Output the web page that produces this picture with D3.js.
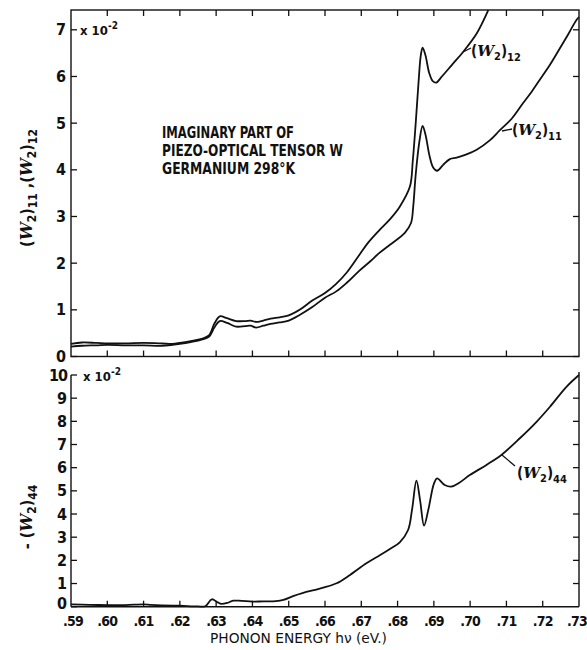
<!DOCTYPE html>
<html><head><meta charset="utf-8">
<script src="https://cdn.jsdelivr.net/npm/d3@7"></script>
<style>
body{margin:0;background:#fff;}
text{font-family:"DejaVu Sans Condensed","Liberation Sans",sans-serif;fill:#111;}
</style></head><body>
<svg id="c" width="587" height="650"></svg>
<script>
// ---- data ----
const xTicks = [0.59,0.60,0.61,0.62,0.63,0.64,0.65,0.66,0.67,0.68,0.69,0.70,0.71,0.72,0.73];
const xTickLabels = [".59",".60",".61",".62",".63",".64",".65",".66",".67",".68",".69",".70",".71",".72",".73"];
const topYTicks = [0,1,2,3,4,5,6,7];
const botYTicks = [0,1,2,3,4,5,6,7,8,9,10];

const w12E = [0.590,0.593,0.597,0.600,0.605,0.610,0.615,0.618,0.620,0.623,0.626,0.628,0.6295,0.631,0.633,0.6355,0.638,0.6395,0.641,0.643,0.645,0.6475,0.650,0.653,0.6565,0.660,0.663,0.666,0.6695,0.672,0.675,0.678,0.6806,0.6834,0.6842,0.6850,0.6858,0.6864,0.6869,0.6877,0.6887,0.6897,0.6907,0.692,0.695,0.698,0.7018,0.705];
const w12V = [0.27,0.30,0.29,0.28,0.28,0.29,0.28,0.27,0.29,0.33,0.38,0.45,0.70,0.86,0.82,0.76,0.76,0.77,0.74,0.77,0.81,0.84,0.88,1.00,1.20,1.36,1.55,1.80,2.18,2.45,2.71,2.95,3.21,3.64,4.2,5.0,5.9,6.45,6.62,6.45,6.08,5.90,5.87,5.98,6.25,6.52,6.92,7.42];

const w11E = [0.590,0.593,0.597,0.600,0.605,0.610,0.615,0.618,0.620,0.623,0.626,0.628,0.6295,0.631,0.633,0.6355,0.638,0.6395,0.641,0.643,0.645,0.6475,0.650,0.653,0.6565,0.660,0.663,0.666,0.6695,0.6725,0.675,0.678,0.682,0.6837,0.6843,0.6850,0.6860,0.6869,0.6877,0.6888,0.6898,0.6909,0.6925,0.6944,0.6963,0.699,0.7018,0.7054,0.7082,0.7115,0.7146,0.7170,0.7192,0.722,0.7247,0.727,0.7293,0.730];
const w11V = [0.21,0.23,0.24,0.25,0.24,0.24,0.23,0.25,0.27,0.31,0.36,0.42,0.62,0.76,0.72,0.64,0.65,0.66,0.62,0.66,0.70,0.73,0.77,0.89,1.06,1.26,1.39,1.58,1.84,2.04,2.22,2.40,2.65,2.86,3.2,3.9,4.6,4.94,4.75,4.30,4.05,3.98,4.10,4.23,4.26,4.33,4.43,4.63,4.85,5.10,5.43,5.68,5.93,6.25,6.60,6.90,7.21,7.27];

const w44E = [0.590,0.595,0.600,0.605,0.610,0.612,0.615,0.620,0.625,0.627,0.6288,0.6303,0.6315,0.633,0.6347,0.637,0.640,0.643,0.6465,0.6485,0.6512,0.654,0.657,0.6595,0.6632,0.6669,0.6714,0.6751,0.678,0.6806,0.6829,0.6840,0.6852,0.6862,0.6873,0.6885,0.6900,0.6909,0.6930,0.6948,0.6970,0.6999,0.7045,0.7086,0.7137,0.7183,0.7220,0.7266,0.7300];
const w44V = [0.10,0.08,0.07,0.07,0.10,0.08,0.06,0.04,0.01,0.02,0.32,0.20,0.12,0.16,0.26,0.25,0.22,0.23,0.24,0.29,0.46,0.60,0.72,0.82,1.01,1.37,1.87,2.22,2.50,2.78,3.31,4.2,5.44,4.6,3.50,4.2,5.3,5.54,5.25,5.18,5.35,5.68,6.12,6.55,7.27,7.98,8.63,9.50,10.0];

// ---- layout ----
const svg = d3.select("#c");
const L = 71, R = 579;
const topT = 10, topB = 356.5, botT = 372, botB = 606.7;
const x = d3.scaleLinear().domain([0.59,0.73]).range([L,R]);
const yT = d3.scaleLinear().domain([0,7]).range([topB,29.8]);
const yB = d3.scaleLinear().domain([0,10]).range([botB,375]);
function line(x1,y1,x2,y2,w){svg.append("line").attr("x1",x1).attr("y1",y1).attr("x2",x2).attr("y2",y2).attr("stroke","#111").attr("stroke-width",w||1.3);}

// top panel frame
svg.append("rect").attr("x",L).attr("y",topT).attr("width",R-L).attr("height",topB-topT).attr("stroke","#111").attr("stroke-width",1.4).attr("fill","none");
xTicks.slice(1,-1).forEach(t=>{ line(x(t),topB,x(t),topB-6); line(x(t),topT,x(t),topT+6); });
topYTicks.forEach(t=>{ line(L,yT(t),L+6,yT(t)); line(R,yT(t),R-6,yT(t));
  svg.append("text").attr("x",L-5).attr("y",yT(t)+5.5).attr("text-anchor","end").attr("font-size",16).attr("font-weight","bold").text(t); });

// bottom panel axes
line(L,375,L,botB,1.4); line(L,botB,R,botB,1.4); line(R,botT,R,botB,1.4);
xTicks.slice(1,-1).forEach(t=>{ line(x(t),botB,x(t),botB-6); });
botYTicks.forEach(t=>{ line(L,yB(t),L+6,yB(t)); if(t>0 && t<10) line(R,yB(t),R-6,yB(t));
  svg.append("text").attr("x",L-4).attr("y",yB(t)+(t===0?2.5:5.5)).attr("text-anchor","end").attr("font-size",16).attr("font-weight","bold").attr("letter-spacing",t===10?-1:0).text(t); });
xTicks.forEach((t,i)=>{
  svg.append("text").attr("x",x(t)+(i===xTicks.length-1?-2:(i===0?2:0))).attr("y",626).attr("text-anchor","middle").attr("font-size",14).attr("font-weight","bold").attr("letter-spacing",-0.8).text(xTickLabels[i]); });

// x10^-2 labels
function sci(xx,yy){ const t=svg.append("text").attr("x",xx).attr("y",yy).attr("font-size",13).attr("font-weight","bold");
  t.append("tspan").text("x 10"); t.append("tspan").attr("dy",-6).attr("font-size",10).text("-2"); }
sci(80,35); sci(83,381);

// curves
const gen = d3.line().x(d=>x(d[0])).curve(d3.curveCatmullRom.alpha(0.5));
function draw(E,V,ys){ svg.append("path").datum(E.map((e,i)=>[e,V[i]])).attr("d",gen.y(d=>ys(d[1]))).attr("fill","none").attr("stroke","#111").attr("stroke-width",1.8); }
draw(w12E,w12V,yT); draw(w11E,w11V,yT); draw(w44E,w44V,yB);

// curve labels
function wlab(xx,yy,sub,fs){
  const t=svg.append("text").attr("x",xx).attr("y",yy).attr("font-size",fs||15).attr("font-weight","bold");
  t.append("tspan").text("(");
  t.append("tspan").attr("font-style","italic").attr("font-family","DejaVu Serif").text("W");
  t.append("tspan").attr("dy",4).attr("font-size",11).text("2");
  t.append("tspan").attr("dy",-4).text(")");
  t.append("tspan").attr("dy",5).attr("font-size",11).text(sub);
  return t;
}
line(463,52,471,48,1.3); wlab(471,56,"12");
line(502,131,512,129,1.3); wlab(512,135,"11");
line(502,455,515,466,1.3); wlab(517,478,"44");

// annotation
const annLines = ["IMAGINARY PART OF","PIEZO-OPTICAL TENSOR W","GERMANIUM  298°K"];
const annLen = [132,181,133];
annLines.forEach((s,i)=>{
  svg.append("text").attr("x",162).attr("y",138+i*18.2).attr("font-size",15).attr("font-weight","bold")
    .attr("textLength",annLen[i]).attr("lengthAdjust","spacingAndGlyphs").text(s);
});

// axis titles
svg.append("text").attr("x",210).attr("y",643).attr("font-size",14)
  .attr("textLength",177).attr("lengthAdjust","spacingAndGlyphs").text("PHONON ENERGY  h\u03bd  (eV.)");
const yt1 = svg.append("text").attr("transform","translate(32,188) rotate(-90)").attr("text-anchor","middle").attr("font-size",16).attr("font-weight","bold");
[["(",0,0],["W",0,1],["2",4,2],[")",-4,0],["11",5,2],[" ,(",-5,0],["W",0,1],["2",4,2],[")",-4,0],["12",5,2]].forEach(([s,dy,k])=>{
  const ts=yt1.append("tspan").attr("dy",dy).text(s);
  if(k===1) ts.attr("font-style","italic").attr("font-family","DejaVu Serif");
  if(k===2) ts.attr("font-size",12);
});
const yt2 = svg.append("text").attr("transform","translate(32,517) rotate(-90)").attr("text-anchor","middle").attr("font-size",16).attr("font-weight","bold");
[["- (",0,0],["W",0,1],["2",4,2],[")",-4,0],["44",5,2]].forEach(([s,dy,k])=>{
  const ts=yt2.append("tspan").attr("dy",dy).text(s);
  if(k===1) ts.attr("font-style","italic").attr("font-family","DejaVu Serif");
  if(k===2) ts.attr("font-size",12);
});
</script>
</body></html>
